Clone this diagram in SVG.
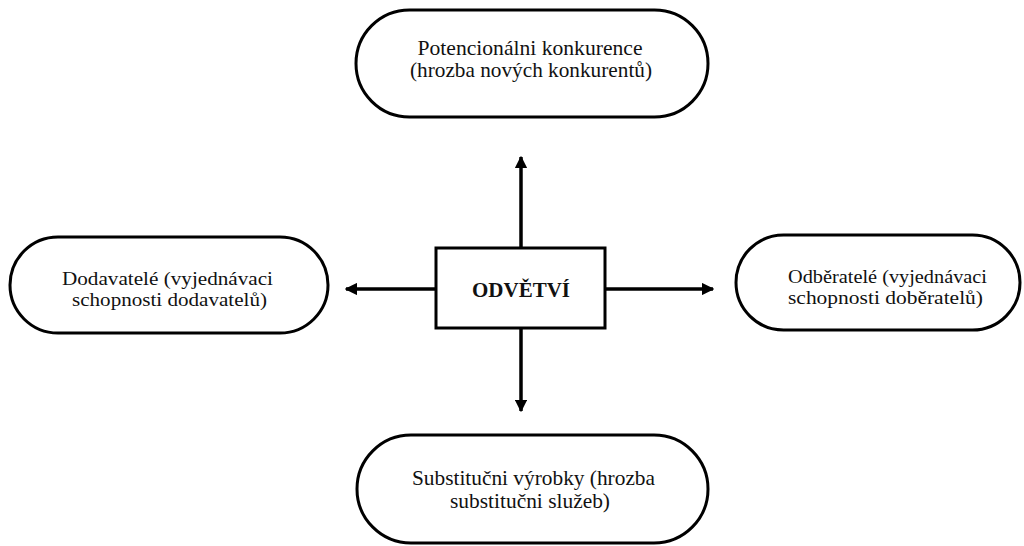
<svg xmlns="http://www.w3.org/2000/svg" width="1024" height="546" viewBox="0 0 1024 546">
<style>
.pill{fill:#fff;stroke:#000;stroke-width:3}
.box{fill:#fff;stroke:#000;stroke-width:3}
.t{font-family:"Liberation Serif","Times New Roman",serif;font-size:21px;fill:#111;text-anchor:middle}
.s{font-size:19.5px}
.b{font-family:"Liberation Serif","Times New Roman",serif;font-size:21px;font-weight:bold;fill:#111;text-anchor:middle}
.c{stroke:#000;stroke-width:3.5;fill:none;marker-end:url(#ah)}
</style>
<defs>
<marker id="ah" viewBox="0 0 10 10" refX="9" refY="5" markerWidth="3.6" markerHeight="3.6" orient="auto" markerUnits="strokeWidth">
<path d="M0,0 L10,5 L0,10 z" fill="#000"/>
</marker>
</defs>
<rect width="1024" height="546" fill="#fff"/>
<g id="connectors">
<line class="c" x1="521" y1="248" x2="521" y2="157"/>
<line class="c" x1="521" y1="328" x2="521" y2="411"/>
<line class="c" x1="436" y1="289" x2="346" y2="289"/>
<line class="c" x1="605" y1="289" x2="713" y2="289"/>
</g>
<g id="top">
<rect class="pill" x="356" y="10" width="352" height="107" rx="53.5"/>
<text class="t" x="530" y="55" textLength="225" lengthAdjust="spacingAndGlyphs">Potencionálni  konkurence</text>
<text class="t" x="531" y="77" textLength="242" lengthAdjust="spacingAndGlyphs">(hrozba nových konkurentů)</text>
</g>
<g id="left">
<rect class="pill" x="10" y="237" width="318" height="96" rx="48"/>
<text class="t s" x="167.5" y="285" textLength="211" lengthAdjust="spacingAndGlyphs">Dodavatelé  (vyjednávaci</text>
<text class="t s" x="169.5" y="306" textLength="195" lengthAdjust="spacingAndGlyphs">schopnosti  dodavatelů)</text>
</g>
<g id="center">
<rect class="box" x="436" y="248" width="169" height="80"/>
<text class="b" x="521" y="297" textLength="98" lengthAdjust="spacingAndGlyphs">ODVĚTVÍ</text>
</g>
<g id="right">
<rect class="pill" x="736" y="235" width="284" height="95" rx="47.5"/>
<text class="t s" x="887.5" y="283" textLength="199" lengthAdjust="spacingAndGlyphs">Odběratelé (vyjednávaci</text>
<text class="t s" x="885.5" y="304" textLength="195" lengthAdjust="spacingAndGlyphs">schopnosti  doběratelů)</text>
</g>
<g id="bottom">
<rect class="pill" x="357" y="435" width="351" height="108" rx="54"/>
<text class="t" x="533.5" y="485" textLength="243" lengthAdjust="spacingAndGlyphs">Substitučni  výrobky (hrozba</text>
<text class="t" x="530" y="508" textLength="160" lengthAdjust="spacingAndGlyphs">substitučni  služeb)</text>
</g>
</svg>
